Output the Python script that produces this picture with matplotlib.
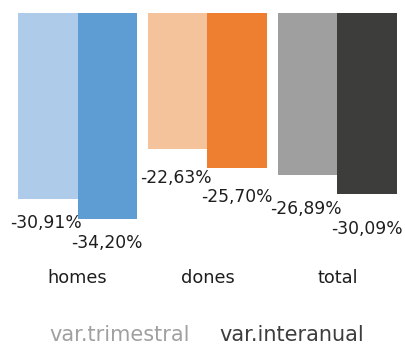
import numpy as np
import matplotlib
matplotlib.use("Agg")
import matplotlib.pyplot as plt

plt.rcParams['font.family'] = ['DejaVu Sans']

categories = ['homes', 'dones', 'total']
trimestral = [-30.91, -22.63, -26.89]
interanual = [-34.20, -25.70, -30.09]
labels_trim = ['-30,91%', '-22,63%', '-26,89%']
labels_inter = ['-34,20%', '-25,70%', '-30,09%']

light_colors = ['#aecbea', '#f4c29b', '#9f9f9f']
dark_colors = ['#5e9dd3', '#ee7f31', '#3d3d3c']

W, H = 406, 345
fig = plt.figure(figsize=(W / 100, H / 100), dpi=100)

# axes: x from 18 to 397 px, y from 13 px (value 0) down to 247 px
ax_left, ax_right = 18, 397
ax_top, ax_bottom = 13, 247
ax = fig.add_axes([ax_left / W, 1 - ax_bottom / H,
                   (ax_right - ax_left) / W, (ax_bottom - ax_top) / H])

bw = 0.458
x = np.arange(len(categories))
ax.bar(x - bw / 2, trimestral, width=bw, color=light_colors)
ax.bar(x + bw / 2, interanual, width=bw, color=dark_colors)

px_per_unit = 6.02
ax.set_xlim(-bw, len(categories) - 1 + bw)
ax.set_ylim(-(ax_bottom - ax_top) / px_per_unit, 0)
ax.axis('off')

# value labels below each bar (baseline offset in px, per group)
label_gap_px = [29, 34, 39.5]
for i in range(len(categories)):
    off = -label_gap_px[i] * 0.72
    ax.annotate(labels_trim[i], (x[i] - bw / 2, trimestral[i]),
                xytext=(-1.5, off), textcoords='offset points',
                ha='center', va='baseline', fontsize=12.3, color='#1e1e1e',
                annotation_clip=False)
    ax.annotate(labels_inter[i], (x[i] + bw / 2, interanual[i]),
                xytext=(0, off), textcoords='offset points',
                ha='center', va='baseline', fontsize=12.3, color='#1e1e1e',
                annotation_clip=False)

# category labels
for i, c in enumerate(categories):
    xf = (ax_left + (x[i] + bw) / (len(categories) - 1 + 2 * bw) * (ax_right - ax_left)) / W
    fig.text(xf, 1 - 283 / H, c, ha='center', va='baseline', fontsize=12.8, color='#1e1e1e')

# legend as text
fig.text(120 / W, 1 - 341 / H, 'var.trimestral', ha='center', va='baseline',
         fontsize=15, color='#a0a0a0')
fig.text(291.5 / W, 1 - 341 / H, 'var.interanual', ha='center', va='baseline',
         fontsize=15, color='#3d3d3d')

fig.savefig('out.png', dpi=100)
